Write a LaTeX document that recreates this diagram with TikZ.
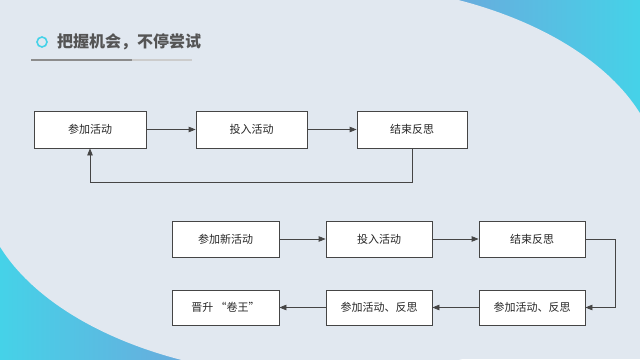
\documentclass[tikz,border=0pt]{standalone}
\usepackage{fontspec}
\setmainfont{Noto Sans CJK SC}
\usetikzlibrary{arrows.meta,calc}
\definecolor{bgc}{HTML}{E1E8F0}
\definecolor{cyanc}{HTML}{45D2E8}
\definecolor{bluec}{HTML}{6CA8DC}
\definecolor{linec}{HTML}{454545}
\definecolor{titlec}{HTML}{555555}
\tikzset{
  box/.style={draw=linec, line width=0.8pt, fill=white, minimum height=37pt, inner sep=0pt, font=\fontsize{11}{13}\selectfont, text=black!85},
  conn/.style={draw=linec, line width=0.8pt, -{Triangle[length=7pt,width=5.5pt]}}
}
\begin{document}
\begin{tikzpicture}[x=1pt,y=-1pt]
\useasboundingbox (0,0) rectangle (640,359);
% background
\fill[bgc] (0,0) rectangle (640,359);
\shade[left color=bluec, right color=cyanc] (440,0) rectangle (640,140);
\shade[left color=cyanc, right color=bluec] (0,220) rectangle (200,359);
\fill[bgc] (320,180) ellipse [x radius=340, y radius=197];
% title
\draw[cyanc, line width=1.6pt] (42,42) circle (5);
\node[anchor=west, text=titlec, font=\fontsize{16}{18}\selectfont\bfseries, inner sep=0pt] (title) at (57,42) {把握机会，不停尝试};
\draw[black!20, line width=1.5pt] (31,60) -- (192,60);
\draw[black!45, line width=1.5pt] (31,60) -- (132,60);
% row 1
\node[box, minimum width=112pt] (n1) at (90,129.5) {参加活动};
\node[box, minimum width=111pt] (n2) at (251.5,129.5) {投入活动};
\node[box, minimum width=110pt] (n3) at (412,129.5) {结束反思};
\draw[conn] (n1) -- (n2);
\draw[conn] (n2) -- (n3);
\draw[conn] (n3.south) -- ++(0,33.5) -| (n1.south);
% rows 2-3
\node[box, minimum width=107pt, minimum height=36pt] (a) at (225.5,239) {参加新活动};
\node[box, minimum width=106pt, minimum height=36pt] (b) at (379,239) {投入活动};
\node[box, minimum width=106pt, minimum height=36pt] (c) at (532,239) {结束反思};
\node[box, minimum width=107pt, minimum height=35pt] (d) at (225.5,307.5) {晋升 “卷王”};
\node[box, minimum width=106pt, minimum height=35pt] (e) at (379,307.5) {参加活动、反思};
\node[box, minimum width=106pt, minimum height=35pt] (f) at (532,307.5) {参加活动、反思};
\draw[conn] (a) -- (b);
\draw[conn] (b) -- (c);
\draw[conn] (c.east) -- ++(30,0) |- (f.east);
\draw[conn] (f) -- (e);
\draw[conn] (e) -- (d);
\end{tikzpicture}
\end{document}
